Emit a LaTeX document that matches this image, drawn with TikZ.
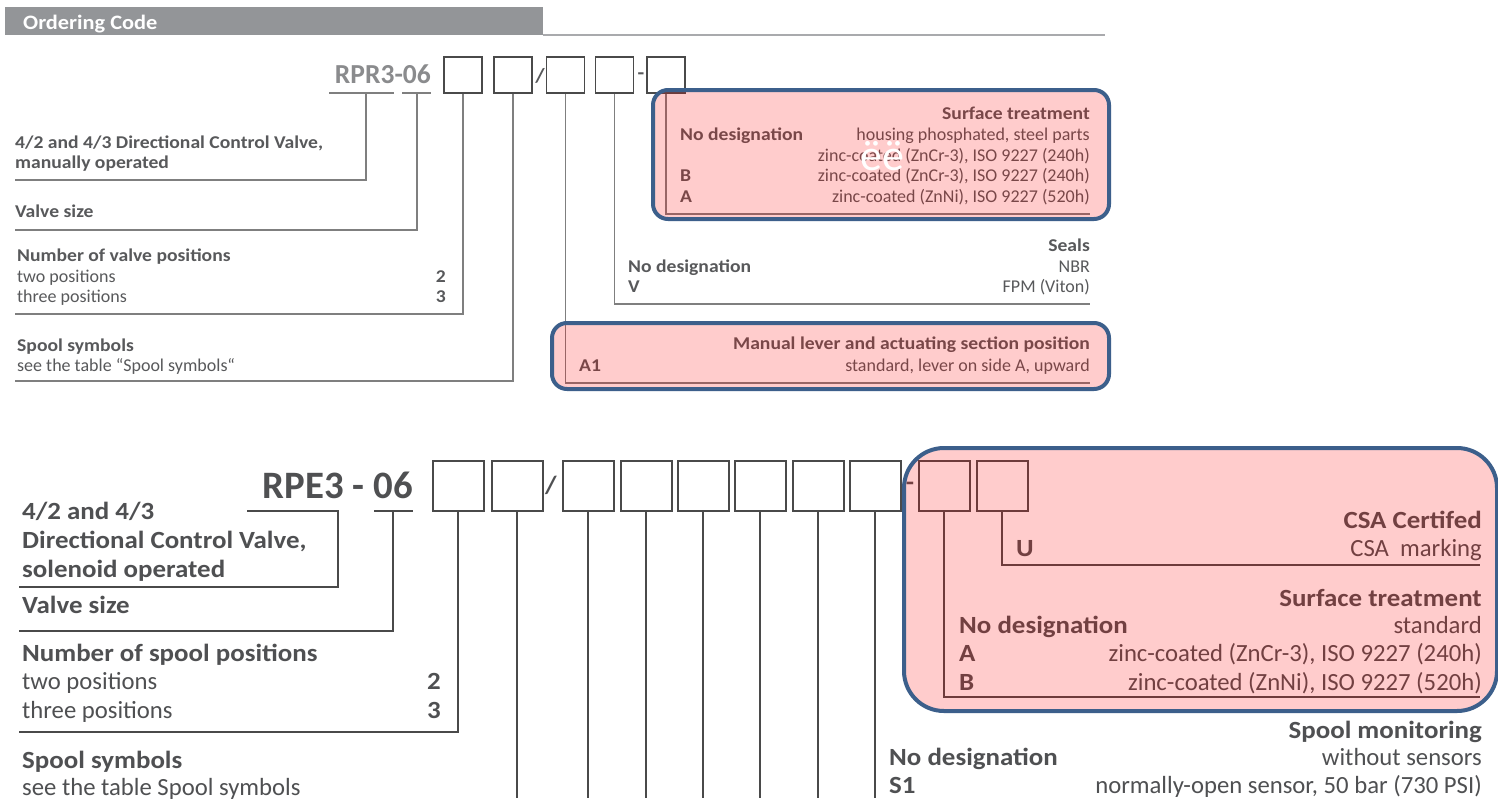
\documentclass[tikz,border=0pt]{standalone}
\usepackage{fontspec}
\setmainfont{Carlito}[BoldFeatures={FakeStretch=1.09}]
\newfontfamily\codefont{Carlito}
\usepackage{xcolor}
\definecolor{headgray}{HTML}{939598}
\definecolor{txtgray}{HTML}{58595B}
\definecolor{codegray}{HTML}{8A8B8D}
\definecolor{linegray}{HTML}{7F7F7F}
\definecolor{boxgray}{HTML}{4A4A4A}
\definecolor{hiblue}{HTML}{3C5F8B}
\newcommand{\smallsize}{\fontsize{18}{20}\selectfont}
\newcommand{\bigsize}{\fontsize{24.7}{28}\selectfont}

\begin{document}
\begin{tikzpicture}[x=1pt,y=-1pt,
  lft/.style={anchor=base west},
  rgt/.style={anchor=base east},
  note/.style={inner sep=0pt,text=txtgray,font=\smallsize},
  notebf/.style={note,font=\smallsize\bfseries},
  big/.style={inner sep=0pt,text=txtgray!90!black,font=\bigsize},
  bigbf/.style={big,font=\bigsize\bfseries},
  cbox/.style={draw=boxgray,line width=1.6pt,minimum width=38pt,minimum height=36pt,inner sep=0pt},
  cboxbig/.style={cbox,line width=2pt,minimum width=51pt,minimum height=50pt},
  lead/.style={draw=linegray,line width=1.2pt},
  leadbig/.style={draw=boxgray,line width=1.8pt},
  hilite/.style={fill=red,fill opacity=0.2,draw=hiblue,draw opacity=1,line width=4pt,rounded corners=15pt}]
  \useasboundingbox (0,0) rectangle (1498,798);
  \fill[white] (0,0) rectangle (1498,798);

  \fill[headgray] (5,7) rectangle (543,35);
  \draw[headgray!80, line width=2pt] (543,35) -- (1105,35);
  \node[inner sep=0pt,text=white,font=\fontsize{20.5}{24}\selectfont\bfseries,lft] (title) at (23,29) {Ordering Code};

  \node[inner sep=0pt,text=codegray,font=\fontsize{27.5}{30}\codefont\bfseries,rgt] (rpr) at (431,83) {RPR3-06};
  \node[cbox] (b1) at (463,75) {};
  \node[cbox] (b2) at (513,75) {};
  \node[notebf,font=\fontsize{20}{22}\selectfont\bfseries] (s1) at (540,76) {/};
  \node[cbox] (b3) at (565.5,75) {};
  \node[cbox] (b4) at (614.5,75) {};
  \node[notebf,font=\fontsize{20}{22}\selectfont\bfseries] (s2) at (641,76) {-};
  \node[cbox] (b5) at (666,75) {};

  \coordinate (ua) at (329,93); \coordinate (ub) at (394,93);
  \coordinate (uc) at (402,93); \coordinate (ud) at (431,93);
  \coordinate (um1) at (366,93); \coordinate (um2) at (417,93);
  \coordinate (e1) at (15,180); \coordinate (e2) at (15,230);
  \coordinate (e3) at (15,314); \coordinate (e4) at (15,381);
  \coordinate (f3) at (1090,383); \coordinate (f4) at (1090,304);
  \coordinate (f5) at (1090,214);
  \draw[lead] (ua) -- (ub);
  \draw[lead] (uc) -- (ud);
  \draw[lead] (um1) |- (e1);
  \draw[lead] (um2) |- (e2);
  \draw[lead] (b1.south) |- (e3);
  \draw[lead] (b2.south) |- (e4);
  \draw[lead] (b3.south) |- (f3);
  \draw[lead] (b4.south) |- (f4);
  \draw[lead] (b5.south) |- (f5);

  \node[notebf,lft] (valve) at (15,148) {4/2 and 4/3 Directional Control Valve,};
  \node[notebf,lft] (manual) at (15,168) {manually operated};
  \node[notebf,lft] (size) at (15,217) {Valve size};
  \node[notebf,lft] (pos) at (17,261) {Number of valve positions};
  \node[note,lft] (pos2) at (17,282) {two positions};
  \node[notebf,rgt] (pos2c) at (446,282) {2};
  \node[note,lft] (pos3) at (17,302) {three positions};
  \node[notebf,rgt] (pos3c) at (446,302) {3};
  \node[notebf,lft] (spool) at (17,351) {Spool symbols};
  \node[note,lft] (spooltab) at (17,371) {see the table “Spool symbols“};

  \node[notebf,rgt] (surf) at (1090,119) {Surface treatment};
  \node[notebf,lft] (surf0) at (680,140) {No designation};
  \node[note,rgt] (surf0t) at (1090,140) {housing phosphated, steel parts};
  \node[note,rgt] (surf0u) at (1090,161) {zinc-coated (ZnCr-3), ISO 9227 (240h)};
  \node[notebf,lft] (surfb) at (680,181) {B};
  \node[note,rgt] (surfbt) at (1090,181) {zinc-coated (ZnCr-3), ISO 9227 (240h)};
  \node[notebf,lft] (surfa) at (680,202) {A};
  \node[note,rgt] (surfat) at (1090,202) {zinc-coated (ZnNi), ISO 9227 (520h)};

  \node[notebf,rgt] (seal) at (1090,251) {Seals};
  \node[notebf,lft] (seal0) at (628,272) {No designation};
  \node[note,rgt] (seal0t) at (1090,272) {NBR};
  \node[notebf,lft] (sealv) at (628,292) {V};
  \node[note,rgt] (sealvt) at (1090,292) {FPM (Viton)};

  \node[notebf,rgt] (lever) at (1090,349) {Manual lever and actuating section position};
  \node[notebf,lft] (levera) at (579,371) {A1};
  \node[note,rgt] (leverat) at (1090,371) {standard, lever on side A, upward};

  \draw[hilite] (653,90) rectangle (1109,219);
  \draw[hilite] (552,323) rectangle (1109,389);
  \node[inner sep=0pt,text=white,font=\fontsize{44}{46}\selectfont,anchor=base] (glitch) at (882,170) {ëë};

  \node[inner sep=0pt,text=txtgray!90!black,font=\fontsize{38.8}{42}\codefont\bfseries,rgt] (rpe) at (413,498) {RPE3 - 06};
  \node[cboxbig] (B1) at (458,486) {};
  \node[cboxbig] (B2) at (517,486) {};
  \node[bigbf] (S1) at (551,485) {/};
  \node[cboxbig] (B3) at (588,486) {};
  \node[cboxbig] (B4) at (646,486) {};
  \node[cboxbig] (B5) at (703,486) {};
  \node[cboxbig] (B6) at (760,486) {};
  \node[cboxbig] (B7) at (818,486) {};
  \node[cboxbig] (B8) at (875,486) {};
  \node[bigbf] (S2) at (910,486) {-};
  \node[cboxbig] (B9) at (944,486) {};
  \node[cboxbig] (B10) at (1002,486) {};

  \coordinate (va) at (247,511); \coordinate (vb) at (338,511);
  \coordinate (vc) at (374,511); \coordinate (vd) at (413,511);
  \coordinate (vm) at (393,511);
  \coordinate (g1) at (19,587); \coordinate (g2) at (19,631);
  \coordinate (g3) at (19,732); \coordinate (bot) at (0,798);
  \coordinate (h9) at (1480,697); \coordinate (h10) at (1480,565);
  \draw[leadbig] (va) -- (vb) |- (g1);
  \draw[leadbig] (vc) -- (vd);
  \draw[leadbig] (vm) |- (g2);
  \draw[leadbig] (B1.south) |- (g3);
  \draw[leadbig] (B2.south) -- (B2.south |- bot);
  \draw[leadbig] (B3.south) -- (B3.south |- bot);
  \draw[leadbig] (B4.south) -- (B4.south |- bot);
  \draw[leadbig] (B5.south) -- (B5.south |- bot);
  \draw[leadbig] (B6.south) -- (B6.south |- bot);
  \draw[leadbig] (B7.south) -- (B7.south |- bot);
  \draw[leadbig] (B8.south) -- (B8.south |- bot);
  \draw[leadbig] (B9.south) |- (h9);
  \draw[leadbig] (B10.south) |- (h10);

  \node[bigbf,lft] (sol) at (22,519) {4/2 and 4/3};
  \node[bigbf,lft] (sol2) at (22,548) {Directional Control Valve,};
  \node[bigbf,lft] (sol3) at (22,577) {solenoid operated};
  \node[bigbf,lft] (vsize) at (22,613) {Valve size};
  \node[bigbf,lft] (spos) at (22,661) {Number of spool positions};
  \node[big,lft] (spos2) at (22,689) {two positions};
  \node[bigbf,rgt] (spos2c) at (441,689) {2};
  \node[big,lft] (spos3) at (22,718) {three positions};
  \node[bigbf,rgt] (spos3c) at (441,718) {3};
  \node[bigbf,lft] (ssym) at (22,768) {Spool symbols};
  \node[big,lft] (ssymt) at (22,795) {see the table Spool symbols};

  \node[bigbf,rgt] (csa) at (1482,528) {CSA Certifed};
  \node[bigbf,lft] (csau) at (1016,556) {U};
  \node[big,rgt] (csaut) at (1482,556) {CSA\ \ marking};
  \node[bigbf,rgt] (bsurf) at (1482,606) {Surface treatment};
  \node[bigbf,lft] (bsurf0) at (959,633) {No designation};
  \node[big,rgt] (bsurf0t) at (1482,633) {standard};
  \node[bigbf,lft] (bsurfa) at (959,661) {A};
  \node[big,rgt] (bsurfat) at (1482,661) {zinc-coated (ZnCr-3), ISO 9227 (240h)};
  \node[bigbf,lft] (bsurfb) at (959,690) {B};
  \node[big,rgt] (bsurfbt) at (1482,690) {zinc-coated (ZnNi), ISO 9227 (520h)};

  \node[bigbf,rgt] (mon) at (1482,738) {Spool monitoring};
  \node[bigbf,lft] (mon0) at (889,765) {No designation};
  \node[big,rgt] (mon0t) at (1482,765) {without sensors};
  \node[bigbf,lft] (mons) at (889,793) {S1};
  \node[big,rgt] (monst) at (1482,793) {normally-open sensor, 50 bar (730 PSI)};

  \draw[hilite,rounded corners=40pt] (904,448) rectangle (1497,711);
\end{tikzpicture}
\end{document}
